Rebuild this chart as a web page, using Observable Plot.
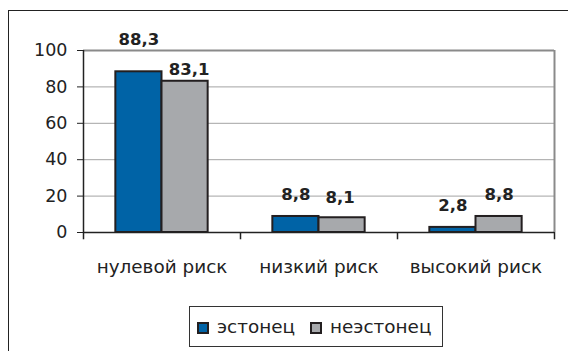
<!DOCTYPE html>
<html>
<head>
<meta charset="utf-8">
<script src="https://cdn.jsdelivr.net/npm/d3@7"></script>
<script src="https://cdn.jsdelivr.net/npm/@observablehq/plot@0.6"></script>
<style>
  html, body { margin: 0; padding: 0; background: #fff; }
  #wrap { position: relative; width: 568px; height: 351px; overflow: hidden; font-family: "DejaVu Sans", sans-serif; }
  #frame { position: absolute; left: 8px; top: 10px; width: 600px; height: 400px;
           border-left: 1.5px solid #222; border-top: 1.5px solid #222; }
  #chart { position: absolute; left: 0; top: 0; }
  #legend { position: absolute; left: 189px; top: 306px; width: 254px; height: 41px; box-sizing: border-box;
            border: 1.5px solid #333; background: #fff; display: flex; align-items: center;
            padding-left: 7px; font-size: 18.4px; color: #222; }
  .sw { width: 12px; height: 12px; box-sizing: border-box; border: 2px solid #231f20; margin-right: 8px; margin-top: 2px; }
  .item { display: flex; align-items: center; margin-right: 15px; }
</style>
</head>
<body>
<div id="wrap">
  <div id="frame"></div>
  <div id="chart"></div>
  <div id="legend"></div>
</div>
<script>
// ---- data ----
const categories = ["нулевой риск", "низкий риск", "высокий риск"];
const series = ["эстонец", "неэстонец"];
const estonian = [88.3, 8.8, 2.8];
const nonEstonian = [83.1, 8.1, 8.8];
const yTicks = [0, 20, 40, 60, 80, 100];
const seriesColors = ["#0063a6", "#a7a9ac"];

// ---- label placement (style only, mimics manual placement in the original) ----
const labelLift = [[27, 16, 16], [6, 15, 16]];
const labelShift = [[0, 0, 0], [4, -2, 0]];

const barW = 0.294; // fraction of category band per bar
const rows = [];
[estonian, nonEstonian].forEach((vals, s) => {
  vals.forEach((v, i) => {
    const x1 = s === 0 ? i + 0.5 - barW : i + 0.5;
    rows.push({cat: categories[i], series: series[s], s, i, value: v,
               x1, x2: x1 + barW, xm: x1 + barW / 2,
               label: String(v).replace(".", ",")});
  });
});

const fontFamily = "DejaVu Sans, sans-serif";
const chart = Plot.plot({
  width: 568,
  height: 300,
  marginLeft: 83,
  marginRight: 14,
  marginTop: 50,
  marginBottom: 68,
  style: {fontFamily, background: "transparent", overflow: "visible"},
  x: {type: "linear", domain: [0, 3]},
  y: {domain: [0, 100]},
  color: {domain: series, range: seriesColors},
  marks: [
    Plot.ruleY([20, 40, 60, 80], {stroke: "#a3a3a3", strokeWidth: 1}),
    Plot.ruleY([100], {stroke: "#8a8a8a", strokeWidth: 2}),
    Plot.ruleX([3], {y1: 0, y2: 100, stroke: "#8a8a8a", strokeWidth: 2}),
    Plot.rectY(rows, {x1: "x1", x2: "x2", y1: 0, y2: "value", fill: "series", stroke: "#231f20", strokeWidth: 2}),
    Plot.ruleX([0], {y1: -4, y2: 100, stroke: "#222", strokeWidth: 1.5}),
    Plot.ruleY([0], {stroke: "#222", strokeWidth: 1.5}),
    Plot.ruleX([1, 2, 3], {y1: -4, y2: 0, stroke: "#222", strokeWidth: 1.5}),
    Plot.axisY({ticks: yTicks, tickSize: 6, tickPadding: 10, fontSize: 17.5, stroke: "#222", fill: "#222",
                tickFormat: d => String(d), label: null}),
    Plot.axisX({ticks: [0.5, 1.5, 2.5], tickSize: 0, tickPadding: 27, fontSize: 18.4, fill: "#222",
                tickFormat: d => categories[Math.floor(d)], label: null}),
    Plot.text(rows, {x: "xm", y: "value", text: "label", fontSize: 16.5, fontWeight: "bold", fill: "#222",
                     lineAnchor: "bottom"})
  ]
});

// per-label lift (style-only adjustment)
const texts = chart.querySelectorAll("g[aria-label='text'] text");
texts.forEach((t, k) => {
  const r = rows[k];
  t.setAttribute("transform", (t.getAttribute("transform") || "") + ` translate(${labelShift[r.s][r.i]},${-labelLift[r.s][r.i]})`);
});
document.getElementById("chart").appendChild(chart);

// legend
const legend = document.getElementById("legend");
series.forEach((s, k) => {
  const item = document.createElement("div");
  item.className = "item";
  const sw = document.createElement("div");
  sw.className = "sw";
  sw.style.background = seriesColors[k];
  const lab = document.createElement("span");
  lab.textContent = s;
  item.appendChild(sw);
  item.appendChild(lab);
  legend.appendChild(item);
});
</script>
</body>
</html>
